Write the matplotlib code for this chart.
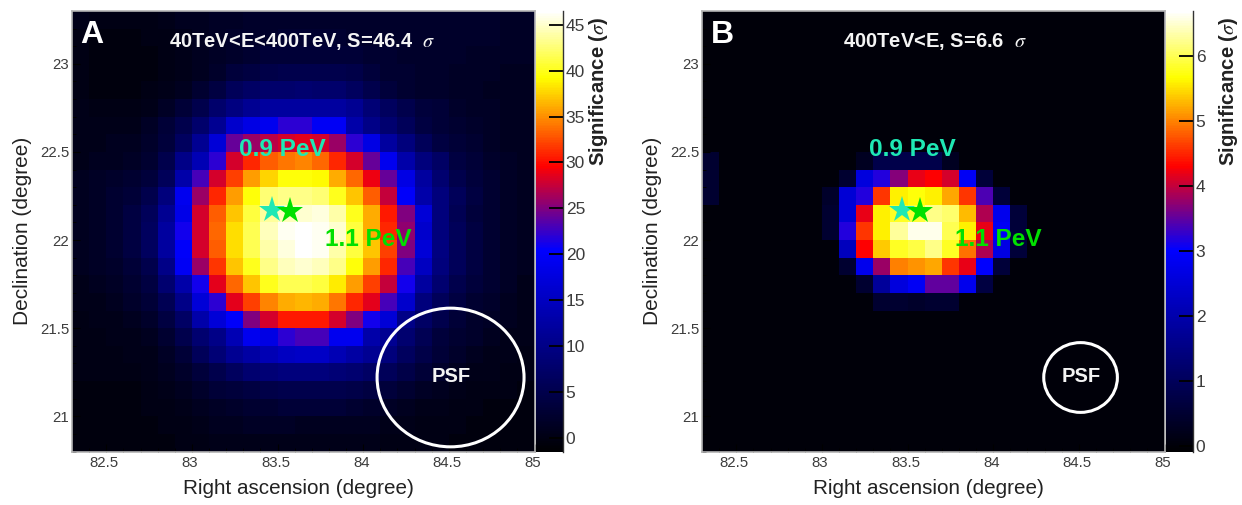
import numpy as np
import matplotlib
matplotlib.use("Agg")
import matplotlib.pyplot as plt
from matplotlib.colors import LinearSegmentedColormap
from matplotlib.patches import Ellipse
from matplotlib.transforms import ScaledTranslation

plt.rcParams['font.family'] = ['Liberation Sans', 'DejaVu Sans']
plt.rcParams['mathtext.fontset'] = 'stix'

W, H = 1242, 505
ra_edges = np.round(np.arange(82.3, 85.01, 0.1), 1)
dec_edges = np.round(np.arange(23.3, 20.79, -0.1), 1)
ra_ticks = [82.5, 83, 83.5, 84, 84.5, 85]
ra_labels = ['82.5', '83', '83.5', '84', '84.5', '85']
dec_ticks = [21, 21.5, 22, 22.5, 23]
dec_labels = ['21', '21.5', '22', '22.5', '23']
cbar_ticks_a = [0, 5, 10, 15, 20, 25, 30, 35, 40, 45]
cbar_ticks_b = [0, 1, 2, 3, 4, 5, 6]
range_a = (-1.5, 46.5)
range_b = (-0.08, 6.7)

# Significance, row by row from the top (Dec 23.3) and column by column from RA 82.3
significance_a = [
 [.5,0,0,0,0,.5,1,1,1.5,1.5,2,2,2,2,2,2,2,2,2,2,2,2,2,2,2,1.5,1.5],
 [0,-.5,-.5,-.5,0,0,.5,1,1.5,2,2,2,2.5,2.5,2.5,2.5,2,2,2,2,2,2,2,2,2,1.5,1.5],
 [0,-.5,-.5,-.5,-.5,0,.5,1,1.5,2,2.5,3,3,3,3,3,3,2.5,2.5,2,2,2,2,1.5,1.5,1.5,1.5],
 [0,-.5,-.5,-.5,-.5,0,.5,1,2,3.5,4,4.5,5,5,5,5,4.5,3.5,2.5,2.5,2,2,1.5,1.5,1.5,1,1],
 [0,-.5,-.5,-.5,0,.5,1,2.5,4,6,7,7.5,7.5,8,7.5,7.5,6.5,5,3.5,2.5,2,2,1.5,1.5,1,1,1],
 [.5,0,0,0,.5,1.5,3,5,7.5,9.5,11,12,12,12,12,12,11,8.5,6.5,5,3.5,3,2,1.5,1.5,1,1],
 [.5,.5,.5,.5,1.5,3,5,7.5,11,16,18,19,22,22,19.5,19.5,13,10,8,6,4,3,2.5,2,1.5,1,1],
 [.5,.5,1,1,2,3.5,6.5,11,17,24,26,27,28,28.5,28,26,22,18,12,9,6,4,3,2.5,1.5,1,1],
 [.5,1,1,1.5,2.5,5,10,14,22,28,31,33,34,34.5,33.5,31,28,24,19,13,9,7,4,3,2,1.5,1],
 [1,1.5,2,2.5,3.5,6,13,23,28,32,35.5,37.5,39.5,39.5,39,36,33.5,29,24,18,12,8,5,3.5,2.5,1.5,1],
 [1,1.5,2.5,3,5,9,19,26,31,35.5,39.5,42.5,43,43,42.5,40,37,33,27.5,20,13,9,6,4,2.5,1.5,1],
 [1,1.5,2.5,4,6,11,18.5,28,33,37,41,43.5,44.5,45,45.5,44,40,36,30.5,25,17,9,5.5,3.5,2.5,1.5,1],
 [1,1.5,2.5,4,6.5,12,21,28,33.5,38,41.5,44.5,46,46.4,46,45,41,36,31,25.5,16,9,6,4,2.5,1.5,1],
 [1,1.5,2.5,4,6.5,12,20,28,33,38,41.5,44,45.5,46.4,46,44,41,37,32,25,17,9.5,6,4,2.5,1.5,1],
 [1,1.5,2,3,5,10,19.5,26,31.5,37,40,43,44.5,45,44.5,43,39.5,35.5,31,23,15,9,6,4,2.5,1.5,1],
 [.5,1,1.5,2.5,4,8,13,21,28.5,33.5,37,40,41.5,41.5,41,38.5,35.5,32,27.5,21,12,8,5,3.5,2.5,1.5,.5],
 [.5,.5,1,2,3,5.5,10,17,22,28.5,32,34.5,36,36.5,36,34,31,28.5,23,16,9,6,4,2.5,2,1,.5],
 [0,.5,.5,1,2,4,7,13,17,20,25,28,30.5,30.5,30.5,28,25,21,17,10,7,5,3,2,1.5,1,.5],
 [0,0,.5,.5,1,2.5,5,8,10,14,19,18,22,23,23,19,19,13,11,8,5.5,3.5,2.5,2,1,.5,.5],
 [0,0,0,.5,.5,1.5,3,6,8.5,11,12.5,14,15,15.5,15.5,14,12.5,11,9,6.5,4.5,3,2,1,.5,.5,0],
 [0,0,0,0,.5,1,2,3.5,5,6.5,8,8.5,9,9,9,8.5,8,7,6,4.5,3,2,1,.5,.5,0,0],
 [-.5,-.5,-.5,-.5,0,.5,1,2,3,3.5,4,4.5,5,5,5,5,4.5,4,3.5,2.5,1.5,1,.5,0,0,0,-.5],
 [-.5,-.5,-.5,-.5,0,0,.5,1,1.5,2,2.5,2.5,3,3,3,3,2.5,2,1.5,1,.5,.5,0,0,-.5,-.5,-.5],
 [-.5,-.5,-.5,-.5,-.5,0,0,.5,1,1,1.5,1.5,1.5,1,1,1,1,1,.5,.5,0,0,0,-.5,-.5,-.5,-.5],
 [-.5,-.5,-.5,-.5,-.5,-.5,0,0,.5,.5,.5,.5,.5,.5,.5,.5,.5,.5,0,0,0,0,-.5,-.5,-.5,-.5,-.5],
]

z = [0] * 27
significance_b = [list(z) for _ in range(25)]
# non-zero cells of panel B: (row, first column, values)
nonzero_b = [
 (8, 0, [.5]), (9, 0, [.5]), (10, 0, [.5]),
 (8, 9, [.3, .8, .8, .8, .8, .3]),
 (9, 8, [.5, 2.6, 3.2, 3.7, 4.2, 4.3, 4.1, 2.9, .6]),
 (10, 7, [.4, 2.5, 3.2, 4.6, 5.6, 5.7, 5.6, 5.2, 4.6, 3.4, .6]),
 (11, 7, [.5, 2.5, 4.2, 5.6, 5.8, 5.9, 6.2, 6.1, 5.3, 3.9, 2.8, .6]),
 (12, 7, [.5, 3.2, 4.6, 5.6, 6.3, 6.6, 6.6, 6.0, 5.6, 4.2, 2.9, .6]),
 (13, 8, [2.2, 4.3, 5.4, 5.8, 5.95, 6.2, 5.8, 4.9, 3.9, 2.7, .6]),
 (14, 8, [.5, 2.8, 3.8, 5.0, 5.1, 5.2, 4.6, 4.2, 3.0, .6]),
 (15, 9, [.5, 1.8, 2.6, 2.9, 3.5, 3.5, 2.8, .7]),
 (16, 10, [.5, .5, .4, .5, .5]),
]
for row, start, vals in nonzero_b:
    significance_b[row][start:start + len(vals)] = vals

cmap = LinearSegmentedColormap.from_list('sig', [
    (0.0, (0, 0, 0.01)), (0.457, (0, 0, 1)), (0.648, (1, 0, 0)),
    (0.85, (1, 1, 0)), (1.0, (1, 1, 1))], N=256)

TICK = '#3c3c3c'
CYAN = '#1fe8b4'
GREEN = '#00e000'
fig = plt.figure(figsize=(W / 100, H / 100), dpi=100)


def rect(x0, y0, x1, y1):
    return [x0 / W, 1 - y1 / H, (x1 - x0) / W, (y1 - y0) / H]


def ftext(x, y, s, **kw):
    fig.text(x / W, 1 - y / H, s, ha='center', va='center', **kw)


def panel(x0, letter, title, title_x, data, vrange, cbticks, circle_wh):
    ax = fig.add_axes(rect(x0, 11, x0 + 462.5, 451.5))
    m = ax.pcolormesh(ra_edges, dec_edges, np.array(data), cmap=cmap,
                      vmin=vrange[0], vmax=vrange[1], rasterized=True,
                      linewidth=0, antialiased=False)
    ax.set_xlim(82.3, 85.0)
    ax.set_ylim(20.8, 23.3)
    ax.set_xticks(ra_ticks, ra_labels)
    ax.set_yticks(dec_ticks, dec_labels)
    ax.set_xticks(np.arange(82.3, 85.01, 0.1), minor=True)
    ax.set_yticks(np.arange(20.8, 23.31, 0.1), minor=True)
    ax.tick_params(which='major', direction='in', length=6, width=0.8, color='black',
                   labelsize=10.8, labelcolor=TICK)
    ax.tick_params(axis='x', which='major', pad=3.5)
    ax.tick_params(axis='y', which='major', pad=2)
    ax.tick_params(which='minor', direction='in', length=3, width=0.7, color='black')
    off = ScaledTranslation(-2 / 100, 0, fig.dpi_scale_trans)
    for lab in ax.get_xticklabels():
        lab.set_transform(lab.get_transform() + off)
    for s in ax.spines.values():
        s.set_color('#b4b4b4')
        s.set_linewidth(1.2)

    ftext(x0 + 226, 489, 'Right ascension (degree)', fontsize=14.9, color='#222222')
    ftext(x0 - 49, 231, 'Declination (degree)', fontsize=15, color='#222222', rotation=90)

    ftext(x0 + 20, 35, letter, fontsize=23, fontweight='bold', color='white')
    ftext(title_x, 42, title, fontsize=14.5, fontweight='bold', color='#f4f4f4')
    ftext(x0 + 210, 150, '0.9 PeV', fontsize=17.6, fontweight='bold', color=CYAN, zorder=6)
    ftext(x0 + 296, 240, '1.1 PeV', fontsize=17.6, fontweight='bold', color=GREEN, zorder=6)
    ax.plot([83.47], [22.17], marker='*', ms=20, color=CYAN, mew=0, ls='none', zorder=5)
    ax.plot([83.57], [22.165], marker='*', ms=20, color=GREEN, mew=0, ls='none', zorder=5)
    ax.add_patch(Ellipse((84.51, 21.22), circle_wh[0], circle_wh[1], fill=False,
                         edgecolor='white', lw=2.2, zorder=5))
    ftext(x0 + 379, 377, 'PSF', fontsize=14.5, fontweight='bold', color='#f4f4f4')

    cax = fig.add_axes(rect(x0 + 463.5, 11, x0 + 491, 451.5))
    cb = fig.colorbar(m, cax=cax)
    cb.outline.set_visible(False)
    cb.set_ticks(cbticks)
    cb.ax.minorticks_off()
    cb.ax.tick_params(direction='in', length=10, width=1.3, color='black',
                      labelsize=12.5, labelcolor=TICK, pad=2)
    for side in ('left', 'top', 'bottom'):
        cax.spines[side].set_visible(False)
    cax.spines['right'].set_visible(True)
    cax.spines['right'].set_color('#333333')
    cax.spines['right'].set_linewidth(1.0)
    ftext(x0 + 526, 91, 'Significance ($\\sigma$)', fontsize=14.6, fontweight='bold',
          color='#222222', rotation=90)


panel(72, 'A', '40TeV<E<400TeV, S=46.4  $\\sigma$', 302, significance_a, range_a,
      cbar_ticks_a, (0.858, 0.787))
panel(702, 'B', '400TeV<E, S=6.6  $\\sigma$', 935, significance_b, range_b,
      cbar_ticks_b, (0.43, 0.396))

fig.savefig('out.png', dpi=100)
